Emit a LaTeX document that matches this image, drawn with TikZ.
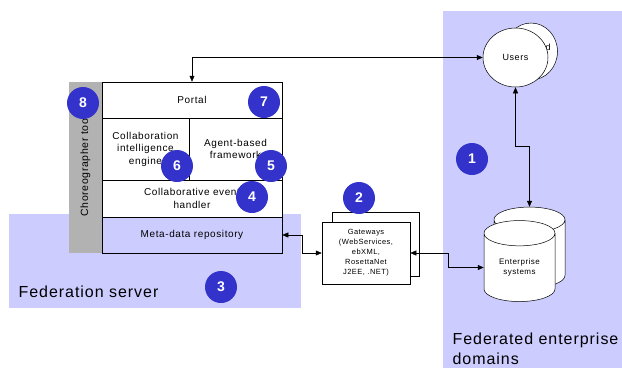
\documentclass[tikz,border=0pt]{standalone}
\usepackage{fontspec}
\setmainfont{Liberation Sans}
\newfontfamily\spacedfont[LetterSpace=6]{Liberation Sans}
\usetikzlibrary{shapes.geometric,arrows.meta}
\definecolor{fedblue}{RGB}{204,204,255}
\definecolor{numblue}{RGB}{51,51,204}
\definecolor{toolgray}{RGB}{178,178,178}
\newcommand\fedfont{\spacedfont\fontsize{16}{20}\selectfont}
\newcommand\layerfont{\spacedfont\fontsize{10}{12.5}\selectfont}
\newcommand\gwfont{\spacedfont\fontsize{7.5}{10}\selectfont}
\newcommand\storefont{\spacedfont\fontsize{8}{10}\selectfont}
\tikzset{
  layer/.style={draw, fill=white, inner sep=1pt, align=center, font=\layerfont},
  num/.style={circle, fill=numblue, text=white, minimum size=32pt, inner sep=0pt,
    font=\fontsize{14}{14}\selectfont\bfseries},
  store/.style={cylinder, shape border rotate=90, aspect=0.62, draw, fill=white,
    minimum width=71pt, minimum height=81pt, inner sep=0pt, align=center, font=\storefont},
}

\begin{document}
\begin{tikzpicture}[x=1pt,y=-1pt,line width=0.5pt,>={Triangle[length=6pt,width=5pt]}]
\useasboundingbox (0,0) rectangle (622,368);
% background regions
\fill[fedblue] (9,214) rectangle (301,308);
\fill[fedblue] (443,11) rectangle (622,368);
\node (fedsrv) [anchor=west, font=\fedfont] at (15,292) {Federation server};
\node (feddom) [anchor=west, align=left, font=\fedfont] at (449,349) {Federated enterprise\\domains};

% federation server stack
\node (tool) [fill=toolgray, minimum width=33pt, minimum height=171pt, inner sep=0pt] at (85.5,167.5) {};
\node (tooltxt) [rotate=90, font=\spacedfont\fontsize{10.5}{12}\selectfont] at (85.5,166) {Choreographer tool};
\node (portal) [layer, minimum width=180pt, minimum height=36pt] at (192,100) {Portal};
\node (collab) [layer, minimum width=87pt, minimum height=62pt] at (145.5,149) {Collaboration\\intelligence\\engine};
\node (agent) [layer, minimum width=93pt, minimum height=62pt] at (235.5,149) {Agent-based\\framework};
\node (handler) [layer, minimum width=180pt, minimum height=37pt] at (192,198.5) {Collaborative event\\handler};
\node (meta) [layer, fill=none, minimum width=180pt, minimum height=36pt] at (192,235) {Meta-data repository};

% gateways
\node (gwback) [draw, fill=white, minimum width=87pt, minimum height=64pt] at (375.5,244) {};
\node (gw) [draw, fill=white, minimum width=88pt, minimum height=62pt, inner sep=0pt, align=center, font=\gwfont] at (366,253) {Gateways\\(WebServices,\\ebXML,\\RosettaNet\\J2EE, .NET)};

% users
\node (usersB) [ellipse, draw, fill=white, minimum width=53pt, minimum height=57pt, inner sep=0pt] at (531,51.5) {};
\node (usersBtxt) [font=\spacedfont\fontsize{9}{11}\selectfont] at (548,47) {d};
\node (users) [ellipse, draw, fill=white, minimum width=65pt, minimum height=59pt, inner sep=0pt, font=\spacedfont\fontsize{9}{11}\selectfont] at (515.5,57.5) {Users};

% enterprise systems
\node (entB) [store] at (529.5,254) {\phantom{Enterprise}\\\phantom{systems}};
\node (ent) [store] at (519.5,267.5) {Enterprise\\systems};

% connectors
\draw[<->] (portal.north) |- (users.west);
\draw[<->] (meta.east) -- ++(20,0) |- (gw.west);
\draw[<->] (gw.east) -- ++(38,0) |- (ent.west);
\draw[<->] (users.south) -- ++(0,59) -| (entB.north);

% numbered markers
\node (n1) [num] at (472,159) {1};
\node (n2) [num] at (359,198) {2};
\node (n3) [num] at (221,287) {3};
\node (n4) [num] at (252,197) {4};
\node (n5) [num] at (271,166) {5};
\node (n6) [num] at (177,166) {6};
\node (n7) [num] at (264,102) {7};
\node (n8) [num] at (83,103) {8};
\end{tikzpicture}
\end{document}
